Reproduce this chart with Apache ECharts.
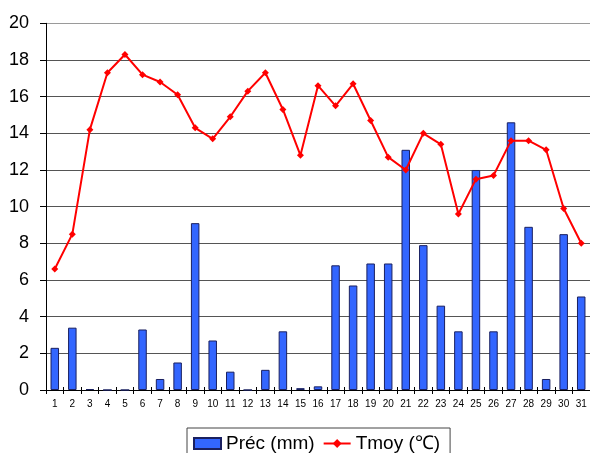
<!DOCTYPE html>
<html>
<head>
<meta charset="utf-8">
<script src="https://cdn.jsdelivr.net/npm/echarts@6/dist/echarts.min.js"></script>
<style>html,body{margin:0;padding:0;background:#fff}#c{width:590px;height:453px}</style>
</head>
<body>
<div id="c"></div>
<script>
var days = ['1','2','3','4','5','6','7','8','9','10','11','12','13','14','15','16','17','18','19','20','21','22','23','24','25','26','27','28','29','30','31'];
var prec = [2.3,3.4,0.05,0,0,3.3,0.6,1.5,9.1,2.7,1.0,0,1.1,3.2,0.1,0.2,6.8,5.7,6.9,6.9,13.1,7.9,4.6,3.2,12.0,3.2,14.6,8.9,0.6,8.5,5.1];
var tmoy = [6.6,8.5,14.2,17.3,18.3,17.2,16.8,16.1,14.3,13.7,14.9,16.3,17.3,15.3,12.8,16.6,15.5,16.7,14.7,12.7,12.0,14.0,13.4,9.6,11.5,11.7,13.6,13.6,13.1,9.9,8.0];
var yTicks = [0,2,4,6,8,10,12,14,16,18,20];

var chart = echarts.init(document.getElementById('c'), null, {renderer:'canvas'});
var gridColors = yTicks.map(function(v,i){ return i === yTicks.length-1 ? '#9a9a9a' : '#555555'; });
chart.setOption({
  animation:false,
  textStyle:{fontFamily:'Liberation Sans, Arial, sans-serif'},
  grid:{left:46, right:-1, top:23.3, bottom:63, containLabel:false},
  legend:{
    left:187, top:428,
    padding:[6,10,8,6],
    borderColor:'#444', borderWidth:1, borderRadius:0,
    itemWidth:27, itemHeight:11, itemGap:8,
    textStyle:{fontSize:19, color:'#000', fontFamily:'Liberation Sans, Arial, sans-serif'},
    data:[{name:'Préc (mm)', icon:'rect'}, {name:'Tmoy (℃)'}]
  },
  xAxis:[{
    type:'category', data:days, boundaryGap:true,
    axisLine:{lineStyle:{color:'#000', width:1}},
    axisTick:{show:true, length:4, lineStyle:{color:'#000'}},
    axisLabel:{fontSize:10, color:'#000', margin:9, interval:0}
  },{
    type:'category', data:days, boundaryGap:true, position:'bottom',
    axisLine:{show:false},
    axisTick:{show:true, inside:true, length:3, lineStyle:{color:'#000'}},
    axisLabel:{show:false}
  }],
  yAxis:{
    type:'value', min:0, max:20, interval:2,
    axisLine:{show:true, lineStyle:{color:'#000'}},
    axisTick:{show:true, length:6, lineStyle:{color:'#000'}},
    axisLabel:{fontSize:18, color:'#000', margin:17},
    splitLine:{show:true, lineStyle:{color:gridColors, width:1}}
  },
  series:[{
    name:'Préc (mm)', type:'bar', data:prec, barWidth:8.5,
    itemStyle:{color:'#3366ff', borderColor:'#1a2060', borderWidth:1}
  },{
    name:'Tmoy (℃)', type:'line', data:tmoy,
    symbol:'diamond', symbolSize:7,
    lineStyle:{color:'#ff0000', width:2},
    itemStyle:{color:'#ff0000'}
  }]
});
</script>
</body>
</html>
